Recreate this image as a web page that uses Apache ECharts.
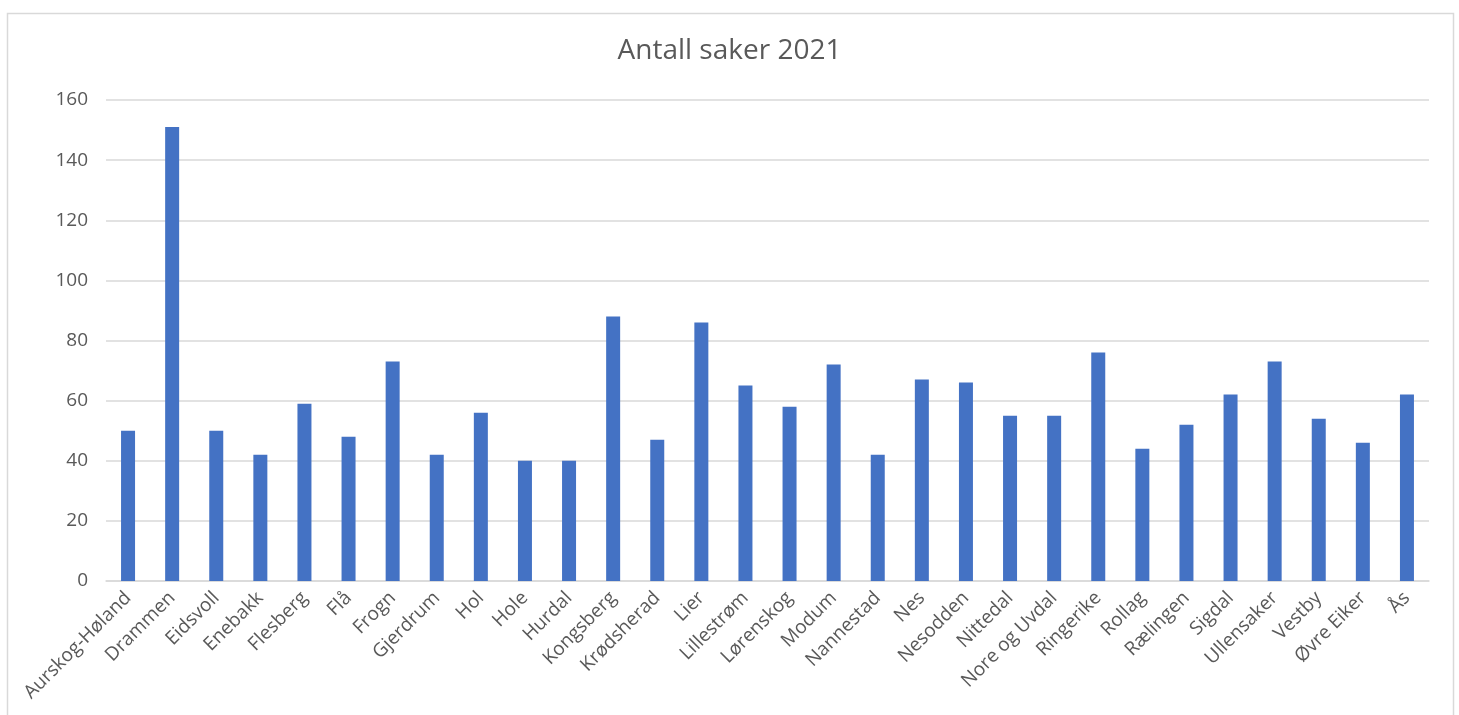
<!DOCTYPE html>
<html>
<head>
<meta charset="utf-8">
<script src="https://cdn.jsdelivr.net/npm/echarts@6/dist/echarts.min.js"></script>
<style>
html,body{margin:0;padding:0;background:#fff;}
#chart{width:1459px;height:715px;}
</style>
</head>
<body>
<div id="chart"></div>
<script>
const titleText = "Antall saker 2021";
const categories = ["Aurskog-Høland","Drammen","Eidsvoll","Enebakk","Flesberg","Flå","Frogn","Gjerdrum","Hol","Hole","Hurdal","Kongsberg","Krødsherad","Lier","Lillestrøm","Lørenskog","Modum","Nannestad","Nes","Nesodden","Nittedal","Nore og Uvdal","Ringerike","Rollag","Rælingen","Sigdal","Ullensaker","Vestby","Øvre Eiker","Ås"];
const values = [50,151,50,42,59,48,73,42,56,40,40,88,47,86,65,58,72,42,67,66,55,55,76,44,52,62,73,54,46,62];
const yMin = 0, yMax = 160, yInterval = 20;

const chart = echarts.init(document.getElementById('chart'));
const font = "'Open Sans', 'Liberation Sans', sans-serif";
chart.setOption({
  animation: false,
  backgroundColor: '#ffffff',
  graphic: [{
    type: 'rect',
    shape: {x: 7.5, y: 13.5, width: 1446, height: 720},
    style: {fill: 'none', stroke: '#D9D9D9', lineWidth: 1.5},
    silent: true
  }],
  title: {
    text: titleText,
    left: 'center',
    top: 32,
    textStyle: {fontFamily: font, fontSize: 28, fontWeight: 'normal', color: '#595959'}
  },
  grid: {left: 106, right: 30, top: 100, bottom: 134, containLabel: false},
  xAxis: {
    type: 'category',
    data: categories,
    axisLine: {lineStyle: {color: '#D9D9D9', width: 1.5}},
    axisTick: {show: false},
    axisLabel: {
      interval: 0,
      rotate: 45,
      margin: 14,
      fontFamily: font,
      fontSize: 19,
      color: '#595959'
    }
  },
  yAxis: {
    type: 'value',
    min: yMin, max: yMax, interval: yInterval,
    axisLine: {show: false},
    axisTick: {show: false},
    splitLine: {lineStyle: {color: '#D9D9D9', width: 1.5}},
    axisLabel: {margin: 18, fontFamily: font, fontSize: 19, color: '#595959'}
  },
  series: [{
    type: 'bar',
    data: values,
    barWidth: 14,
    itemStyle: {color: '#4472C4'}
  }]
});
</script>
</body>
</html>
